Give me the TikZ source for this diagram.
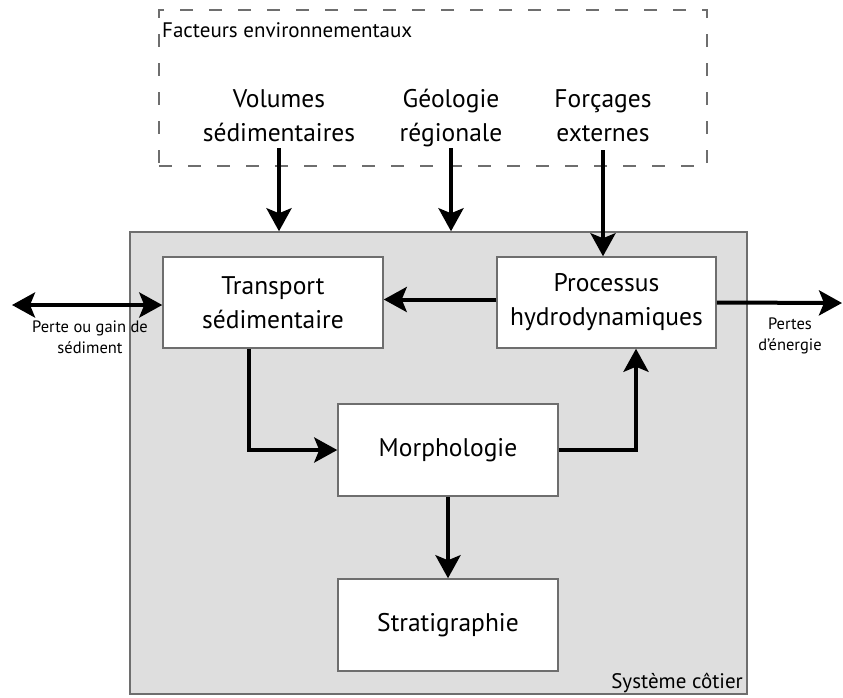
\documentclass[tikz,border=0pt]{standalone}
\usepackage{fontspec}
\setmainfont{PT Sans}
\usetikzlibrary{arrows.meta}
\definecolor{sysgray}{HTML}{DEDEDE}
\definecolor{edgegray}{HTML}{6E6E6E}
\tikzset{
  arr/.style={line width=4pt, -{Stealth[length=23pt,width=25pt,inset=5pt]}},
  darr/.style={line width=4pt, {Stealth[length=23pt,width=25pt,inset=5pt]}-{Stealth[length=23pt,width=25pt,inset=5pt]}},
  procbox/.style={draw=edgegray, line width=1.5pt, fill=white, inner sep=0pt, align=center,
    font=\fontsize{25.5}{34}\selectfont},
  biglabel/.style={align=center, inner sep=0pt, font=\fontsize{25.5}{34}\selectfont},
  smalllabel/.style={align=center, inner sep=0pt, font=\fontsize{16.5}{21}\selectfont},
}
\begin{document}
\begin{tikzpicture}[x=1pt,y=-1pt]
\useasboundingbox (0,0) rectangle (843,697);
% environmental factors (dashed)
\node[draw=edgegray, line width=1.5pt, dash pattern=on 13pt off 16pt, minimum width=548pt, minimum height=156pt, inner sep=0pt] (env) at (433,88) {};
\node[anchor=base west, inner sep=0pt, font=\fontsize{21}{24}\selectfont] (envlab) at (162,37) {Facteurs environnementaux};
% coastal system
\node[draw=edgegray, line width=1.5pt, fill=sysgray, minimum width=617pt, minimum height=462pt, inner sep=0pt] (sys) at (438.5,463) {};
\node[anchor=base east, inner sep=0pt, font=\fontsize{21}{24}\selectfont] (syslab) at (743,688) {Système côtier};
% factor labels
\node[biglabel] (vol) at (279,116) {Volumes\\sédimentaires};
\node[biglabel] (geo) at (451,118) {Géologie\\régionale};
\node[biglabel] (forc) at (603,116) {Forçages\\externes};
\coordinate (volstart) at (279,148);
\coordinate (geostart) at (451,148);
\coordinate (forcstart) at (603,150);
% process boxes
\node[procbox, minimum width=220pt, minimum height=91pt] (trans) at (273,302.5) {Transport\\sédimentaire};
\node[procbox, minimum width=219pt, minimum height=91pt] (proc) at (606.5,302.5) {Processus\\hydrodynamiques};
\node[procbox, minimum width=220pt, minimum height=92pt] (morph) at (448,450) {Morphologie};
\node[procbox, minimum width=220pt, minimum height=92pt] (strat) at (448,625) {Stratigraphie};
% side labels
\node[smalllabel] (perte) at (90,337) {Perte ou gain de\\sédiment};
\node[smalllabel] (energ) at (790,336) {Pertes\\d'énergie};
\coordinate (leftend) at (12,305);
\coordinate (rightend) at (842,303);
% connectors
\draw[arr] (volstart) -- (volstart |- sys.north);
\draw[arr] (geostart) -- (geostart |- sys.north);
\draw[arr] (forcstart) -- (forcstart |- proc.north);
\draw[arr] ([yshift=3pt]proc.west) -- ([yshift=3pt]trans.east);
\draw[darr] (leftend) -- (leftend -| trans.west);
\draw[arr] (proc.east) -- (rightend);
\draw[arr] ([xshift=-24pt]trans.south) |- (morph.west);
\draw[arr] (morph.east) -| ([xshift=29.5pt]proc.south);
\draw[arr] (morph.south) -- (strat.north);
\end{tikzpicture}
\end{document}
